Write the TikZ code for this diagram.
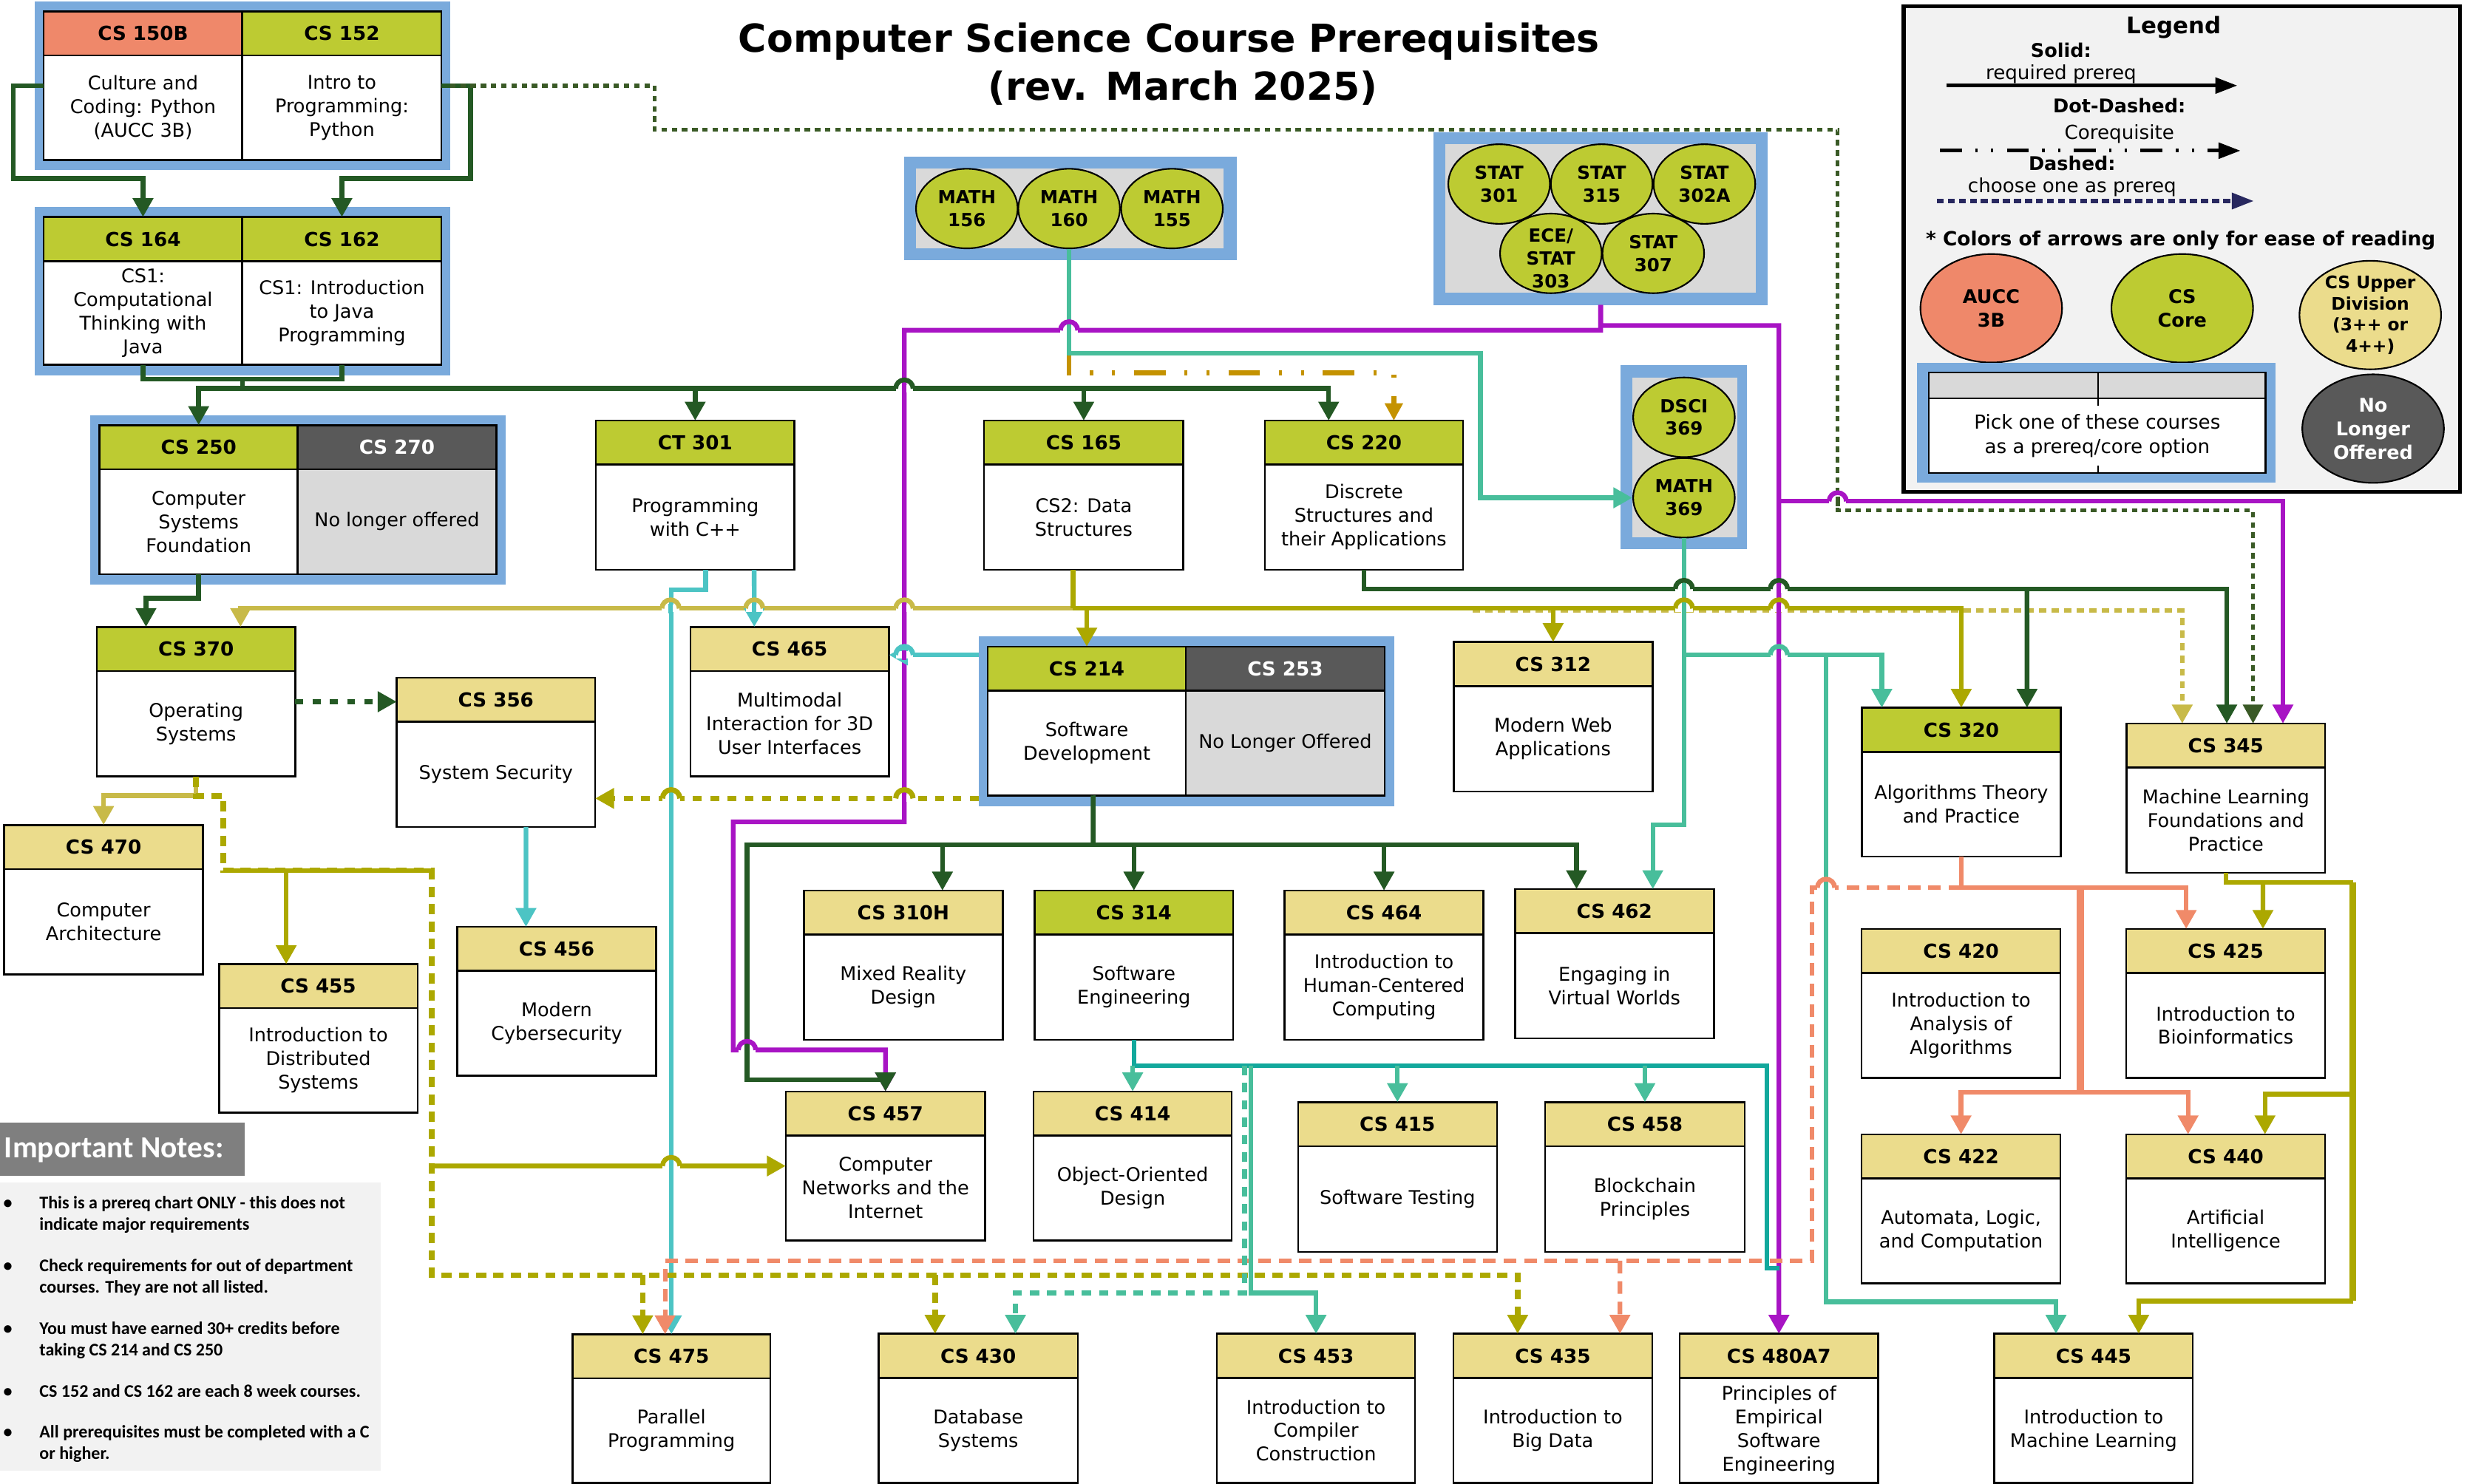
\documentclass[tikz,border=0pt]{standalone}
\usepackage{fontspec}
\setmainfont{DejaVu Sans}
\newfontfamily\notefont{Carlito}
\usetikzlibrary{arrows.meta,shapes.geometric}

\definecolor{cDG}{RGB}{36,89,36}
\definecolor{cDGdot}{RGB}{58,90,38}
\definecolor{cOlive}{RGB}{172,168,0}
\definecolor{cKhaki}{RGB}{200,186,72}
\definecolor{cGold}{RGB}{196,146,0}
\definecolor{cMint}{RGB}{72,190,155}
\definecolor{cCyan}{RGB}{76,196,196}
\definecolor{cTeal}{RGB}{18,168,156}
\definecolor{cPurple}{RGB}{168,20,196}
\definecolor{cSalmon}{RGB}{240,138,105}
\definecolor{cLime}{RGB}{189,203,50}
\definecolor{cHdrSalmon}{RGB}{239,136,106}
\definecolor{cYellow}{RGB}{235,220,140}
\definecolor{cDark}{RGB}{89,89,89}
\definecolor{cGray}{RGB}{217,217,217}
\definecolor{cBlue}{RGB}{122,170,220}
\definecolor{cLegBg}{RGB}{242,242,242}
\definecolor{cNoteHd}{RGB}{127,127,127}
\definecolor{cNavy}{RGB}{40,40,95}

\tikzset{
  x=1pt, y=-1pt,
  hdr/.style={font=\bfseries\fontsize{12.3}{14}\selectfont, inner sep=0},
  bdy/.style={align=center, font=\fontsize{12}{15}\selectfont, inner sep=0},
  boxframe/.style={draw=black, line width=1.2pt, inner sep=0, outer sep=0, anchor=north west},
  bluefr/.style={fill=cBlue, inner sep=0, outer sep=0, anchor=north west},
  oval/.style={ellipse, draw=black, line width=1pt, fill=cLime, minimum width=64.6pt, minimum height=50.6pt, inner sep=0},
  ovtxt/.style={align=center, font=\bfseries\fontsize{11.5}{14.5}\selectfont, inner sep=0},
  legoval/.style={ellipse, draw=black, line width=1pt, minimum width=90pt, minimum height=69pt, inner sep=0},
  legtxt/.style={align=center, inner sep=0},
  lnw/.style={line width=3pt},
  arrtip/.style={-{Triangle[length=12pt,width=12.5pt]}},
  req/.style={lnw, arrtip},
  pdotO/.style={line width=3.5pt, dash pattern=on 6.5pt off 4.5pt},
  pdash/.style={dash pattern=on 6pt off 5pt},
  coreq/.style={dash pattern=on 20pt off 12pt on 2pt off 12pt on 2pt off 12pt},
  notetxt/.style={font=\notefont\bfseries\fontsize{11.3}{13.6}\selectfont, inner sep=0, anchor=base west},
}

% #1 body fill, #2 name, #3 x1, #4 y1, #5 x2, #6 y2, #7 header fill, #8 header text, #9 body text
\newcommand\course[9][white]{%
  \fill[#1] (#3,#4) rectangle (#5,#6);
  \fill[#7] (#3,#4) rectangle (#5,#4+28);
  \draw[line width=1.2pt] (#3,#4+28) -- (#5,#4+28);
  \node[boxframe, minimum width={(#5-#3)*1pt}, minimum height={(#6-#4)*1pt}] (#2) at (#3,#4) {};
  \node[hdr] at ({(#3+#5)/2},{#4+14}) {#8};
  \node[bdy] at ({(#3+#5)/2},{(#4+28+#6)/2}) {#9};
}
\newcommand\bluebox[5]{%
  \node[bluefr, minimum width={(#4-#2)*1pt}, minimum height={(#5-#3)*1pt}] (#1) at (#2,#3) {};
}
% line hop: #1 x, #2 y, #3 colour of the horizontal line, #4 colour of the vertical line, #5 width of horizontal line
\newcommand\hop[5]{%
  \fill[white] (#1-5.5,#2-2.4) rectangle (#1+5.5,#2+2.4);
  \draw[#4, line width=3pt] (#1,#2-3) -- (#1,#2+3);
  \draw[#3, line width=#5] (#1-5.5,#2) arc[start angle=180, end angle=360, radius=5.5];
}

\begin{document}
\begin{tikzpicture}
\useasboundingbox (0,0) rectangle (1568,943.5);
\fill[white] (0,0) rectangle (1568,943.5);

% ---------- title
\node[font=\bfseries\fontsize{24.5}{29}\selectfont, anchor=base, inner sep=0] (title1) at (743,32.9) {Computer Science Course Prerequisites};
\node[font=\bfseries\fontsize{24.5}{29}\selectfont, anchor=base, inner sep=0] (title2) at (751.9,63.6) {(rev. March 2025)};

% ---------- blue group frames
\bluebox{grp1}{22}{1}{286}{108}
\bluebox{grp2}{22}{131.7}{286}{238.5}
\bluebox{grp250}{57.5}{263.9}{321.2}{371.6}
\bluebox{grp214}{622}{404.7}{886.2}{512.5}
\bluebox{mathgrp}{574.5}{99.7}{786}{165.3}
\bluebox{statgrp}{911}{84}{1123.7}{193.9}
\bluebox{dscigrp}{1030}{232.3}{1110.5}{349}
\fill[cGray] (582,107) rectangle (777.7,157.8);
\fill[cGray] (918.7,91.5) rectangle (1116,186.3);
\fill[cGray] (1037.6,239.9) rectangle (1104,341.5);

% ---------- ellipses
\node[oval] (math156) at (614.5,132.6) {};
\node[oval] (math160) at (679.5,132.6) {};
\node[oval] (math155) at (744.9,132.6) {};
\node[ovtxt] at (math156) {MATH\\156};
\node[ovtxt] at (math160) {MATH\\160};
\node[ovtxt] at (math155) {MATH\\155};

\node[oval] (stat303) at (985.7,161.1) {};
\node[oval] (stat307) at (1050.8,161.1) {};
\node[oval] (stat301) at (952.8,117) {};
\node[oval] (stat315) at (1018,117) {};
\node[oval] (stat302a) at (1083.3,117) {};
\node[ovtxt] at (stat301) {STAT\\301};
\node[ovtxt] at (stat315) {STAT\\315};
\node[ovtxt] at (stat302a) {STAT\\302A};
\node[ovtxt] at ([yshift=-3pt]stat303) {ECE/\\STAT\\303};
\node[ovtxt] at (stat307) {STAT\\307};

\node[oval] (dsci369) at (1070.3,265.3) {};
\node[oval] (math369) at (1070.3,316.5) {};
\node[ovtxt] at (dsci369) {DSCI\\369};
\node[ovtxt] at (math369) {MATH\\369};

% ---------- courses
\course{cs150b}{27.8}{7.3}{154}{101.7}{cHdrSalmon}{CS 150B}{Culture and\\Coding: Python\\(AUCC 3B)}
\course{cs152}{154}{7.3}{280.6}{101.7}{cLime}{CS 152}{Intro to\\Programming:\\Python}
\course{cs164}{27.8}{138}{154}{232}{cLime}{CS 164}{CS1:\\Computational\\Thinking with\\Java}
\course{cs162}{154}{138}{280.6}{232}{cLime}{CS 162}{CS1: Introduction\\to Java\\Programming}
\course{cs250}{63.3}{270.3}{189.2}{365}{cLime}{CS 250}{Computer\\Systems\\Foundation}
\course[cGray]{cs270}{189.2}{270.3}{315.4}{365}{cDark}{\textcolor{white}{CS 270}}{No longer offered}
\course{ct301}{378.7}{267.4}{505}{362.3}{cLime}{CT 301}{Programming\\with C++}
\course{cs165}{625.5}{267.4}{752.1}{362.3}{cLime}{CS 165}{CS2: Data\\Structures}
\course{cs220}{804}{267.4}{929.8}{362.3}{cLime}{CS 220}{Discrete\\Structures and\\their Applications}
\course{cs370}{61.5}{398.6}{187.7}{493.7}{cLime}{CS 370}{Operating\\Systems}
\course{cs356}{252.1}{430.8}{378.3}{525.7}{cYellow}{CS 356}{System Security}
\course{cs465}{438.8}{398.6}{565}{493.7}{cYellow}{CS 465}{Multimodal\\Interaction for 3D\\User Interfaces}
\course{cs214}{627.8}{411.1}{753.7}{505.7}{cLime}{CS 214}{Software\\Development}
\course[cGray]{cs253}{753.7}{411.1}{880}{505.7}{cDark}{\textcolor{white}{CS 253}}{No Longer Offered}
\course{cs312}{924}{408.2}{1050.3}{503.3}{cYellow}{CS 312}{Modern Web\\Applications}
\course{cs320}{1183.3}{450}{1309.8}{544.6}{cLime}{CS 320}{Algorithms Theory\\and Practice}
\course{cs345}{1351.6}{460}{1477.8}{554.9}{cYellow}{CS 345}{Machine Learning\\Foundations and\\Practice}
\course{cs470}{2.6}{524.5}{129.1}{619.4}{cYellow}{CS 470}{Computer\\Architecture}
\course{cs455}{139.2}{613}{265.4}{707.3}{cYellow}{CS 455}{Introduction to\\Distributed\\Systems}
\course{cs456}{290.7}{589.3}{416.9}{683.9}{cYellow}{CS 456}{Modern\\Cybersecurity}
\course{cs310h}{510.9}{566.2}{637.3}{661.1}{cYellow}{CS 310H}{Mixed Reality\\Design}
\course{cs314}{657.7}{566.2}{783.7}{661.1}{cLime}{CS 314}{Software\\Engineering}
\course{cs464}{816.5}{566.2}{942.8}{661.1}{cYellow}{CS 464}{Introduction to\\Human-Centered\\Computing}
\course{cs462}{962.9}{565.3}{1089.3}{660.2}{cYellow}{CS 462}{Engaging in\\Virtual Worlds}
\course{cs457}{499.4}{693.9}{626.2}{788.7}{cYellow}{CS 457}{Computer\\Networks and the\\Internet}
\course{cs414}{656.9}{693.9}{782.9}{788.7}{cYellow}{CS 414}{Object-Oriented\\Design}
\course{cs415}{825}{700.7}{951.4}{796}{cYellow}{CS 415}{Software Testing}
\course{cs458}{982}{700.7}{1108.9}{796}{cYellow}{CS 458}{Blockchain\\Principles}
\course{cs420}{1183.2}{590.6}{1309.6}{685.3}{cYellow}{CS 420}{Introduction to\\Analysis of\\Algorithms}
\course{cs425}{1351.4}{590.6}{1477.8}{685.3}{cYellow}{CS 425}{Introduction to\\Bioinformatics}
\course{cs422}{1183.2}{721.2}{1309.6}{816}{cYellow}{CS 422}{Automata, Logic,\\and Computation}
\course{cs440}{1351.4}{721.2}{1477.8}{816}{cYellow}{CS 440}{Artificial\\Intelligence}
\course{cs475}{363.8}{848.3}{489.7}{942.8}{cYellow}{CS 475}{Parallel\\Programming}
\course{cs430}{558.5}{848}{685}{942.8}{cYellow}{CS 430}{Database\\Systems}
\course{cs453}{773.5}{848}{899.4}{942.8}{cYellow}{CS 453}{Introduction to\\Compiler\\Construction}
\course{cs435}{923.8}{848}{1050.1}{942.8}{cYellow}{CS 435}{Introduction to\\Big Data}
\course{cs480}{1067.6}{848}{1193.7}{942.8}{cYellow}{CS 480A7}{Principles of\\Empirical\\Software\\Engineering}
\course{cs445}{1267.6}{848}{1393.7}{942.8}{cYellow}{CS 445}{Introduction to\\Machine Learning}

% ---------- legend
\node[draw=black, line width=2.5pt, fill=cLegBg, inner sep=0, outer sep=0, anchor=north west, minimum width=353.5pt, minimum height=308.8pt] (legend) at (1210,4) {};
\node[font=\bfseries\fontsize{14.5}{16}\selectfont, inner sep=0] (legtitle) at (1381.7,17.3) {Legend};
\node[font=\bfseries\fontsize{12}{14}\selectfont, inner sep=0] (lsolid) at (1310,32) {Solid:};
\node[font=\fontsize{12.3}{14}\selectfont, inner sep=0] (lsolidt) at (1310,47.3) {required prereq};
\coordinate (lsa) at (1237,54.4); \coordinate (lsb) at (1422,54.4);
\draw[line width=2.3pt, -{Triangle[length=14pt,width=10pt]}] (lsa) -- (lsb);
\node[font=\bfseries\fontsize{12}{14}\selectfont, inner sep=0] (ldot) at (1347,67) {Dot-Dashed:};
\node[font=\fontsize{12.3}{14}\selectfont, inner sep=0] (ldott) at (1347,85) {Corequisite};
\coordinate (lda) at (1233,95.8); \coordinate (ldb) at (1424,95.8);
\draw[line width=2.3pt, dash pattern=on 14pt off 8.5pt on 1.5pt off 8.5pt on 1.5pt off 8.5pt, -{Triangle[length=14pt,width=10pt]}] (lda) -- (ldb);
\node[font=\bfseries\fontsize{12}{14}\selectfont, inner sep=0] (ldash) at (1317,104) {Dashed:};
\node[font=\fontsize{12.3}{14}\selectfont, inner sep=0] (ldasht) at (1317,119) {choose one as prereq};
\coordinate (lna) at (1231,127.8); \coordinate (lnb) at (1432.5,127.8);
\draw[cNavy, line width=2.6pt, dash pattern=on 4.5pt off 2.5pt, -{Triangle[length=14pt,width=10pt]}] (lna) -- (lnb);
\node[font=\bfseries\fontsize{12.4}{14}\selectfont, inner sep=0] (lnote) at (1386,153) {* Colors of arrows are only for ease of reading};
\node[legoval, fill=cHdrSalmon] (legaucc) at (1265.6,196) {};
\node[legtxt, font=\bfseries\fontsize{12}{15}\selectfont] at (legaucc) {AUCC\\3B};
\node[legoval, fill=cLime] (legcore) at (1387,196) {};
\node[legtxt, font=\bfseries\fontsize{12}{15}\selectfont] at (legcore) {CS\\Core};
\node[legoval, fill=cYellow] (legupper) at (1506.5,200.3) {};
\node[legtxt, font=\bfseries\fontsize{11}{13.5}\selectfont] at (legupper) {CS Upper\\Division\\(3++ or\\4++)};
\node[legoval, fill=cDark] (legno) at (1508.3,272.5) {};
\node[legtxt, font=\bfseries\fontsize{12}{15}\selectfont, text=white] at (legno) {No\\Longer\\Offered};
\bluebox{legpick}{1218.6}{230.9}{1446.5}{307}
\fill[white] (1226,236.8) rectangle (1440,300.8);
\fill[cGray] (1226,236.8) rectangle (1440,253.3);
\draw[line width=1.1pt] (1226,236.8) rectangle (1440,300.8);
\draw[line width=1.1pt] (1226,253.3) -- (1440,253.3);
\draw[line width=0.8pt] (1333.5,236.8) -- (1333.5,258);
\draw[line width=0.8pt] (1333.5,296) -- (1333.5,300.8);
\node[legtxt, font=\fontsize{12.3}{15.3}\selectfont] (legpickt) at (1333,277) {Pick one of these courses\\as a prereq/core option};

% ---------- important notes
\node[fill=cNoteHd, inner sep=0, outer sep=0, anchor=north west, minimum width=155.7pt, minimum height=34pt] (noteshd) at (0,713.8) {};
\node[font=\notefont\bfseries\fontsize{19.5}{22}\selectfont, text=white, anchor=west, inner sep=0] at (2.6,731.5) {Important Notes:};
\node[fill=cLegBg, inner sep=0, outer sep=0, anchor=north west, minimum width=242.1pt, minimum height=183pt] (notesbg) at (0,752) {};
\foreach \yy in {768.4,808.5,848.5,888.3,914.1} {\node[notetxt, anchor=base] at (5,\yy) {•};}
\node[notetxt] at (24.9,768.4) {This is a prereq chart ONLY - this does not};
\node[notetxt] at (24.9,782) {indicate major requirements};
\node[notetxt] at (24.9,808.5) {Check requirements for out of department};
\node[notetxt] at (24.9,822.1) {courses. They are not all listed.};
\node[notetxt] at (24.9,848.5) {You must have earned 30+ credits before};
\node[notetxt] at (24.9,862.1) {taking CS 214 and CS 250};
\node[notetxt] at (24.9,888.3) {CS 152 and CS 162 are each 8 week courses.};
\node[notetxt] at (24.9,914.1) {All prerequisites must be completed with a C};
\node[notetxt] at (24.9,927.7) {or higher.};

% ================= connectors
% top groups
\draw[req, cDG] (cs150b.west) -| (8.6,113.5) -| (cs164.north);
\draw[req, cDG] (cs152.east) -| (299,113.5) -| (cs162.north);
\draw[cDGdot, line width=2.4pt, dash pattern=on 3.5pt off 3pt, arrtip] (grp1.east) -| (416,82.6) -| (1168,324.6) -| ([xshift=17.3pt]cs345.north);

\coordinate (busA) at (154,241);
\coordinate (busB) at (154,247);
\draw[lnw, cDG] (cs164.south) |- (busA) -| (cs162.south);
\draw[lnw, cDG] (busA) -- (busB);
\draw[req, cDG] (busB) -| (cs250.north);
\draw[req, cDG] (busB) -| (ct301.north);
\draw[req, cDG] (busB) -| (cs165.north);
\draw[req, cDG] (busB) -| ([xshift=-22.4pt]cs220.north);

% MATH 160
\draw[lnw, cGold, coreq, -{Triangle[length=11pt,width=11pt]}] (math160.south) -- (679.5,237.1) -| ([xshift=19pt]cs220.north);
\draw[req, cMint] (math160.south) |- (940.9,224.6) |- (math369.west);

% STAT group (purple)
\draw[req, cPurple] (statgrp.south) -- (1017.35,210) -| (574.8,522.5) -| (466,667.5) -| (cs457.north);
\draw[req, cPurple] (statgrp.south) -- (1017.35,207) -| (cs480.north);
\draw[req, cPurple] (1130.65,318.7) -| ([xshift=36.3pt]cs345.north);

% CS 250 -> CS 370
\draw[req, cDG] (cs250.south) |- (110,380.3) -| ([xshift=-31.8pt]cs370.north);

% CS 165
\coordinate (j165) at (682,386.8);
\draw[lnw, cKhaki, arrtip] (j165) -| ([xshift=28.3pt]cs370.north);
\draw[lnw, cKhaki, dash pattern=on 4.5pt off 3.5pt, arrtip] (936,388) -| ([xshift=-27.7pt]cs345.north);
\draw[lnw, cOlive] ([xshift=-6.8pt]cs165.south) -- (j165);
\draw[req, cOlive] (j165) -| (cs214.north);
\draw[req, cOlive] (j165) -| (cs312.north);
\draw[req, cOlive] (j165) -| (cs320.north);

% CT 301
\draw[req, cCyan] ([xshift=6.6pt]ct301.south) |- (430,374.9) -| (cs475.north);
\draw[req, cCyan] ([xshift=37.5pt]ct301.south) -- ([xshift=-22.5pt]cs465.north);

% CS 214 -> 465, 356
\coordinate (c214l) at (622,416.4);
\draw[req, cCyan] (c214l) -- (cs465.north east |- c214l);
\coordinate (c214b) at (622,507.6);
\draw[lnw, cOlive, line width=3.3pt, dash pattern=on 5.5pt off 5.5pt, arrtip] (c214b) -- (cs356.east |- c214b);

% CS 356 -> CS 456
\draw[req, cCyan] ([xshift=19.1pt]cs356.south) -- ([xshift=-19.5pt]cs456.north);

% CS 370
\draw[cDG, line width=3.3pt, dash pattern=on 5pt off 6pt, arrtip] (cs370.east) -- (cs356.west |- cs370.east);
\draw[req, cKhaki] (cs370.south) |- (100,505.9) -| (cs470.north);
\draw[cOlive, pdotO, arrtip] (cs370.south) |- (142,506) -- (142,553.4) -| (274.5,810.7) -| ([xshift=-22.35pt]cs435.north);
\draw[cOlive, pdotO, arrtip] (408.5,810.7) -- ([xshift=-18.25pt]cs475.north);
\draw[cOlive, pdotO, arrtip] (594.3,810.7) -- ([xshift=-27.45pt]cs430.north);
\draw[req, cOlive] (142,553.4) -| ([xshift=-20.4pt]cs455.north);
\draw[lnw, cOlive] (181.9,553.4) -- (274.5,553.4);
\draw[req, cOlive] (274.5,741.3) -- (cs457.west);

% CS 320 (salmon)
\coordinate (s320) at (1246.55,564.4);
\draw[req, cSalmon] (cs320.south) |- (1322.3,564.4) -| ([xshift=-25.1pt]cs425.north);
\draw[cSalmon, line width=5pt] (1322.3,564.4) -- (1322.3,694.4);
\draw[req, cSalmon] (1322.3,694.4) -| (cs422.north);
\draw[req, cSalmon] (1322.3,694.4) -| ([xshift=-23.9pt]cs440.north);
\draw[lnw, cSalmon, dash pattern=on 8pt off 5pt, arrtip] (s320) -| (1151.6,801.6) -| ([xshift=-4pt]cs475.north);
\draw[lnw, cSalmon, dash pattern=on 8pt off 5pt, arrtip] (1029.6,801.6) -- ([xshift=42.65pt]cs435.north);

% CS 345 (olive)
\draw[lnw, cOlive] (cs345.south) |- (1495.4,561);
\draw[cOlive, line width=4.5pt] (1495.4,561) -- (1495.4,827.2);
\draw[req, cOlive] (1495.4,827.2) -| ([xshift=28.65pt]cs445.north);
\draw[req, cOlive] (1438.3,561) -- ([xshift=23.7pt]cs425.north);
\draw[req, cOlive] (1495.4,695.7) -| ([xshift=25pt]cs440.north);

% MATH 369 (mint)
\draw[req, cMint] (math369.south) |- (1060,524.5) -| ([xshift=24.4pt]cs462.north);
\draw[req, cMint] (1070.3,416.4) -| ([xshift=-50.5pt]cs320.north);
\draw[req, cMint] (1160.6,416.4) |- (1250,827.6) -| ([xshift=-23.9pt]cs445.north);

% CS 220
\draw[req, cDG] (cs220.south) |- (1000,374.4) -| ([xshift=0.6pt]cs345.north);
\draw[req, cDG] (1288.3,374.4) -- ([xshift=41.8pt]cs320.north);

% CS 214 (dark green)
\coordinate (b214) at (694.8,537);
\draw[lnw, cDG] ([xshift=4pt]cs214.south) -- (b214);
\draw[req, cDG] (b214) -| ([xshift=24.9pt]cs310h.north);
\draw[req, cDG] (b214) -| (cs314.north);
\draw[req, cDG] (b214) -| (cs464.north);
\draw[req, cDG] (b214) -| ([xshift=-24.1pt]cs462.north);
\draw[req, cDG] (b214) -| (474.8,686.4) -| (cs457.north);

% CS 314 (teal)
\draw[lnw, cTeal] (cs314.south) |- (1122.9,677.5) -- (1122.9,806.3) -- (1131,806.3);
\draw[req, cMint] (719.9,677.5) -- (cs414.north);
\draw[req, cMint] (888.2,677.5) -- (cs415.north);
\draw[req, cMint] (1045.45,677.5) -- (cs458.north);
\draw[req, cMint] (795,677.5) |- (820,822) -| (cs453.north);
\draw[req, cMint, pdash] (791,677.5) |- (700,822) -| ([xshift=23.65pt]cs430.north);

% ---------- line hops where connectors cross
\hop{574.8}{247}{cDG}{cPurple}{3pt}
\hop{679.5}{210}{cPurple}{cMint}{3pt}
\hop{426.2}{386.8}{cKhaki}{cCyan}{3pt}
\hop{479.4}{386.8}{cKhaki}{cCyan}{3pt}
\hop{574.8}{386.8}{cKhaki}{cPurple}{3pt}
\hop{574.8}{416.4}{cCyan}{cPurple}{3pt}
\hop{474.8}{667.5}{cPurple}{cDG}{3pt}
\hop{1070.3}{374.4}{cDG}{cMint}{3pt}
\hop{1130.65}{374.4}{cDG}{cPurple}{3pt}
\hop{1070.3}{386.8}{cOlive}{cMint}{3pt}
\hop{1130.65}{386.8}{cOlive}{cPurple}{3pt}
\hop{1130.65}{416.4}{cMint}{cPurple}{3pt}
\hop{1168}{318.7}{cPurple}{cDGdot}{3pt}
\hop{426.6}{741.3}{cOlive}{cCyan}{3pt}
\hop{1160.6}{564.4}{cSalmon}{cMint}{3pt}
\hop{426.6}{507.6}{cOlive}{cCyan}{3.3pt}
\hop{574.8}{507.6}{cOlive}{cPurple}{3.3pt}

\end{tikzpicture}
\end{document}
